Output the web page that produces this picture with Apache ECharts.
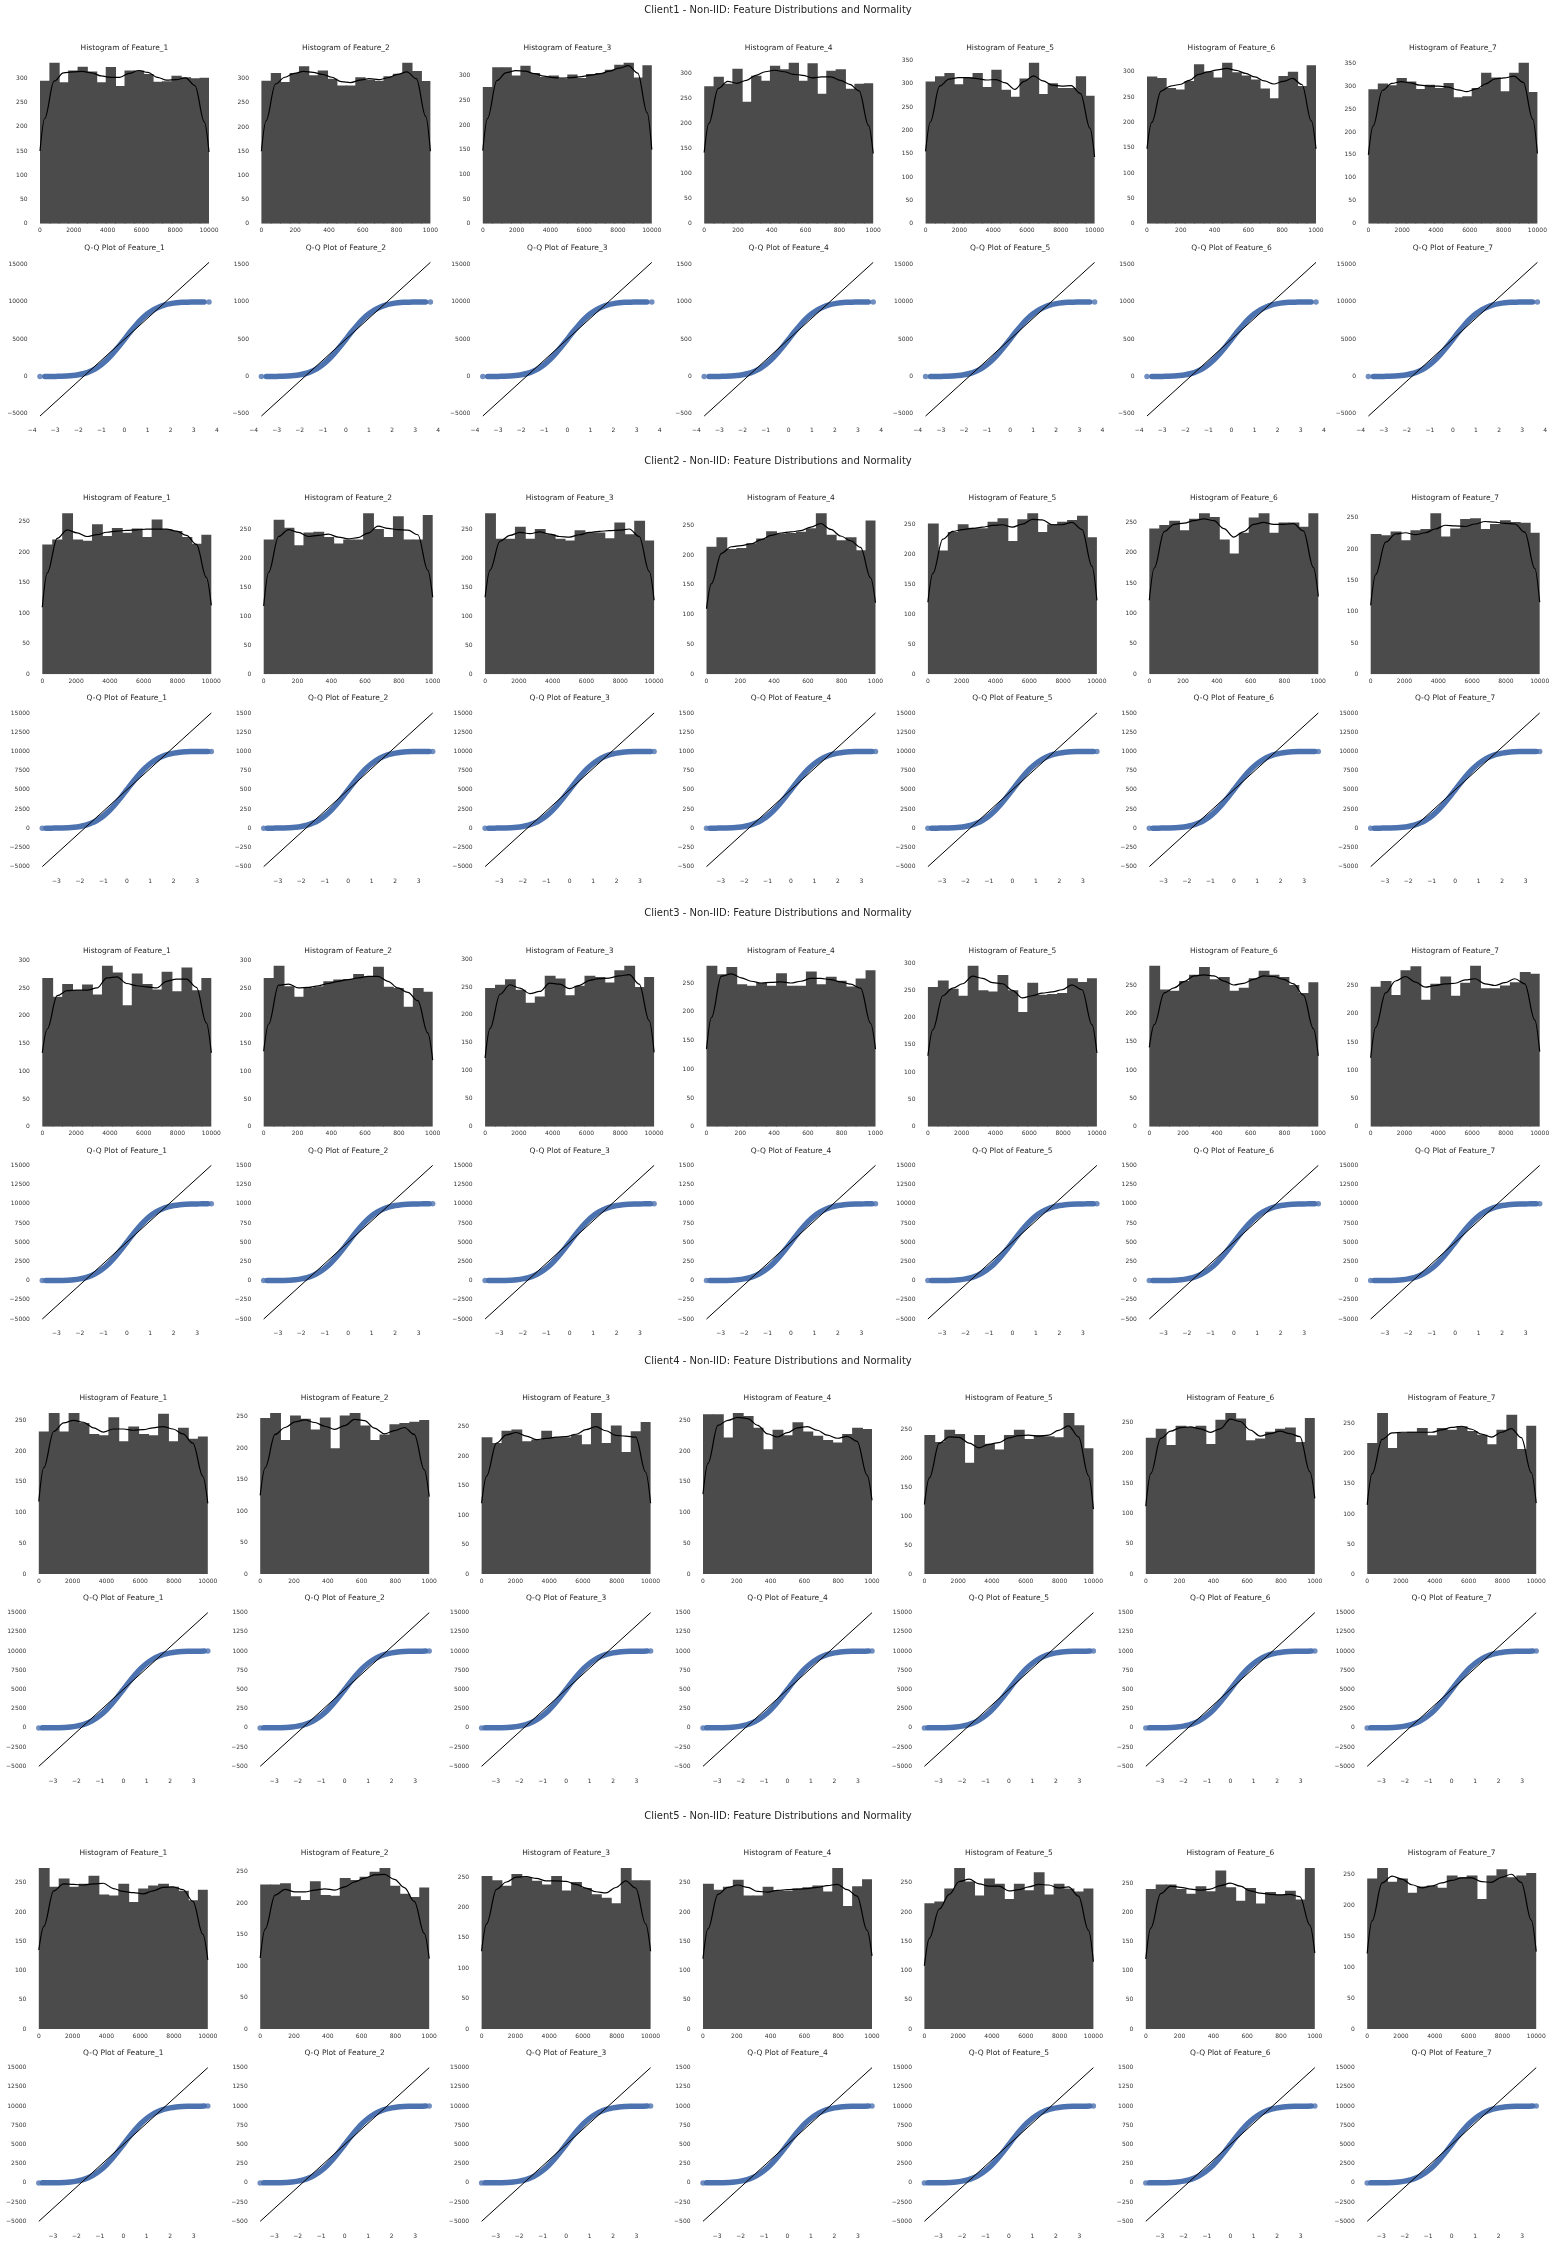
<!DOCTYPE html>
<html><head><meta charset="utf-8">
<script src="https://cdn.jsdelivr.net/npm/echarts@6/dist/echarts.min.js"></script>
<style>html,body{margin:0;padding:0;background:#fff}#c{width:1557px;height:2250px}</style>
</head><body><div id="c"></div>
<script>
// ---------------- DATA ----------------
const clientNames = ['Client1','Client2','Client3','Client4','Client5'];
const featureNames = ['Feature_1','Feature_2','Feature_3','Feature_4','Feature_5','Feature_6','Feature_7'];
const featureMax = [10000,1000,10000,1000,10000,1000,10000];
const histXTicks10k = [0,2000,4000,6000,8000,10000];
const histXTicks1k = [0,200,400,600,800,1000];

// histogram counts per bin (one row per feature)
const client1Counts = [
 [295,332,292,316,324,314,292,323,284,316,316,309,293,294,305,302,300,301],
 [296,312,293,312,326,307,317,300,286,286,303,298,296,305,310,333,316,295],
 [277,317,317,300,320,305,297,300,293,302,295,303,305,312,322,326,296,321],
 [274,293,279,309,243,295,285,315,308,321,285,320,259,305,308,269,279,280],
 [305,316,323,299,314,323,293,330,287,272,311,345,278,301,291,291,316,274],
 [291,288,268,265,282,315,300,289,318,299,293,285,267,248,292,300,272,313],
 [293,306,302,318,310,294,303,296,307,276,278,296,329,319,289,329,351,287]
];
// KDE curve values: left edge, each bin centre, right edge
const client1Kde = [
 [150,217,294,311,313,314,311,305,302,302,310,316,312,302,296,297,301,285,210,148],
 [150,213,289,303,311,315,313,309,303,294,292,297,300,298,302,309,314,300,222,150],
 [148,213,290,306,310,309,304,299,296,295,296,298,301,304,309,315,320,305,225,150],
 [142,200,270,284,280,286,296,303,306,303,298,296,291,293,293,286,278,265,196,140],
 [155,218,295,310,313,313,311,308,309,302,288,305,317,306,297,295,296,279,205,143],
 [148,200,262,272,275,283,295,300,304,307,303,297,290,282,276,281,287,275,203,148],
 [150,213,291,306,310,307,302,300,300,298,292,288,294,305,316,318,322,308,228,153]
];
const client2Counts = [
 [213,221,264,221,219,246,227,240,232,239,225,254,238,235,225,214,229],
 [233,267,253,223,245,246,237,226,233,233,278,251,237,273,233,233,275],
 [278,234,234,255,234,251,242,234,231,249,245,245,235,262,242,265,231],
 [214,230,210,212,220,228,240,236,237,239,245,270,234,225,230,208,258],
 [251,206,237,250,244,243,254,260,222,258,268,237,250,254,257,264,228],
 [240,246,253,237,256,265,259,222,199,233,258,265,233,250,250,243,265],
 [224,222,228,214,230,232,257,220,233,248,249,232,240,246,243,242,226]
];
const client2Kde = [
 [110,166,223,237,232,226,229,233,235,236,237,238,238,238,235,228,213,159,113],
 [118,176,238,250,245,238,240,242,237,234,236,244,256,252,250,249,241,180,133],
 [133,180,230,240,245,243,246,242,238,237,241,245,247,248,249,251,238,178,128],
 [110,152,203,214,216,219,226,233,237,239,241,247,253,243,232,224,213,162,120],
 [120,168,225,238,241,243,245,248,249,245,250,258,257,249,249,253,241,180,123],
 [122,175,235,247,249,253,256,253,240,226,235,247,250,247,247,248,236,176,128],
 [110,159,211,224,226,223,226,232,238,237,236,240,244,243,241,240,227,169,115]
];
const client3Counts = [
 [268,234,257,246,256,238,290,278,219,276,257,247,279,244,287,246,268],
 [268,290,253,234,250,253,262,265,266,275,270,288,252,250,216,250,243],
 [248,254,264,245,222,233,270,265,235,252,270,268,258,280,288,250,268],
 [280,265,278,248,245,250,245,267,245,245,270,248,261,254,244,258,272],
 [256,268,253,240,295,250,248,278,250,210,264,242,243,245,272,265,272],
 [284,242,240,257,268,282,260,264,240,245,262,275,268,264,250,236,255],
 [248,258,233,277,284,225,253,266,232,255,285,245,245,250,256,274,271]
];
const client3Kde = [
 [133,176,236,245,246,246,250,268,270,258,254,252,250,262,266,266,251,187,133],
 [136,185,255,257,250,251,254,258,262,265,268,271,271,262,250,242,227,169,120],
 [123,176,237,254,248,238,242,257,255,247,253,262,265,266,270,272,255,190,133],
 [135,190,262,266,259,253,250,251,252,250,253,258,258,256,252,248,241,180,135],
 [130,178,240,254,262,276,272,264,262,250,236,240,245,247,251,260,251,187,135],
 [140,180,236,245,256,266,268,266,257,250,253,260,266,265,260,252,232,173,125],
 [122,176,237,258,266,256,247,250,253,254,260,262,253,250,255,262,253,189,133]
];
const client4Counts = [
 [232,262,232,262,246,228,226,255,216,240,228,226,261,216,238,220,224],
 [248,256,213,252,247,230,249,200,252,256,236,213,222,238,240,242,245],
 [232,222,243,245,225,228,243,232,232,236,220,273,222,252,207,242,258],
 [260,260,222,262,257,238,203,235,226,247,232,225,218,214,228,238,236],
 [240,228,249,242,192,240,225,215,240,249,233,240,238,236,278,257,217],
 [225,240,213,245,243,245,215,255,266,257,221,224,235,240,242,218,258],
 [218,268,210,235,237,243,231,243,240,246,238,232,216,240,265,208,247]
];
const client4Kde = [
 [118,173,232,246,250,247,238,231,236,236,234,235,238,240,236,228,213,159,115],
 [125,169,222,233,242,245,241,235,230,236,246,244,232,223,228,233,222,166,123],
 [120,166,222,236,240,234,228,230,232,233,237,245,250,243,235,234,232,173,120],
 [130,180,242,250,255,253,242,228,223,230,238,240,234,226,221,224,216,161,120],
 [120,166,226,237,236,226,218,224,227,235,239,240,238,240,248,256,237,170,112],
 [112,166,224,236,242,243,240,234,240,256,252,238,228,232,236,232,227,169,125],
 [115,167,224,235,236,236,236,236,240,244,246,241,233,228,236,242,227,169,118]
];
const client5Counts = [
 [275,243,257,243,248,262,230,228,248,217,240,245,248,243,236,220,238],
 [230,230,232,211,205,235,213,212,240,237,242,250,256,228,215,210,225],
 [252,245,236,255,250,244,238,252,228,242,232,222,216,207,265,245,245],
 [248,238,243,255,228,228,243,237,236,240,242,245,235,275,210,244,256],
 [215,218,240,275,252,228,257,248,222,248,237,268,230,248,240,235,240],
 [240,248,248,240,232,245,236,272,243,220,242,215,235,230,237,222,276],
 [243,260,238,243,220,230,232,228,248,245,248,210,248,258,245,248,252]
];
const client5Kde = [
 [135,175,236,248,247,246,248,249,240,235,233,231,236,242,243,238,218,162,118],
 [113,159,213,222,218,218,221,223,221,226,234,240,245,246,238,225,203,152,112],
 [128,173,230,242,250,251,248,244,244,243,238,232,226,224,233,244,232,173,128],
 [120,171,230,242,246,242,235,234,237,238,239,240,242,245,247,238,227,169,125],
 [108,155,205,230,252,256,248,244,244,236,238,243,247,246,241,243,227,169,115],
 [120,173,232,245,243,240,238,240,246,250,245,237,233,231,230,231,227,178,130],
 [122,175,236,247,242,233,228,231,236,240,244,244,238,237,245,250,237,176,125]
];

// Q-Q plot: ordered sample values (dense band) against theoretical quantiles
const qqBandZ   = [-3.45,-3.2,-3.0,-2.75,-2.5,-2.25,-2.0,-1.75,-1.5,-1.25,-1.0,-0.75,-0.5,-0.25,0,0.25,0.5,0.75,1.0,1.25,1.5,1.75,2.0,2.25,2.5,2.75,3.0,3.2,3.45];
const qqBand10k = [5,10,15,30,60,120,230,400,670,1060,1590,2270,3090,4010,5000,5990,6910,7730,8410,8940,9330,9600,9770,9880,9940,9970,9985,9992,9996];
const qqBand1k  = [0.5,1,1.5,3,6,12,23,40,67,106,159,227,309,401,500,599,691,773,841,894,933,960,977,988,994,997,998.5,999.2,999.6];
const qqEndVals10k = [0,10000];
const qqEndVals1k  = [0,1000];
const qqEndZ = [3.66,3.6,3.6,3.6,3.6];
const qqFit10k = [[-5300,15300],[-5000,15000],[-5000,15000],[-5000,15000],[-5000,15000]];
const qqFit1k  = [[-530,1530],[-500,1500],[-500,1500],[-500,1500],[-500,1500]];
const qqXTicks = [[-4,-3,-2,-1,0,1,2,3,4],[-3,-2,-1,0,1,2,3],[-3,-2,-1,0,1,2,3],[-3,-2,-1,0,1,2,3],[-3,-2,-1,0,1,2,3]];
const qqYTicks10k = [[-5000,0,5000,10000,15000],[-5000,-2500,0,2500,5000,7500,10000,12500,15000],[-5000,-2500,0,2500,5000,7500,10000,12500,15000],[-5000,-2500,0,2500,5000,7500,10000,12500,15000],[-5000,-2500,0,2500,5000,7500,10000,12500,15000]];
const qqYTicks1k  = [[-500,0,500,1000,1500],[-500,-250,0,250,500,750,1000,1250,1500],[-500,-250,0,250,500,750,1000,1250,1500],[-500,-250,0,250,500,750,1000,1250,1500],[-500,-250,0,250,500,750,1000,1250,1500]];

// ---------------- LAYOUT / STYLE ----------------
const countsAll = [client1Counts,client2Counts,client3Counts,client4Counts,client5Counts];
const kdeAll = [client1Kde,client2Kde,client3Kde,client4Kde,client5Kde];
const dataLeft = [40,42.3,42.3,38.8,38.8];
const zeroY = [223.7,674.3,1126.7,1574,2029];
const PITCH = 221.4, AXW = 185.9, AXH = 169, QQ_GAP = 200;
const FONT = 'DejaVu Sans';
const BAR = '#4b4b4b', BLUE = '#4c72b0', TXT = '#262626';

const chart = echarts.init(document.getElementById('c'), null, {width:1557, height:2250});
const grid = [], xAxis = [], yAxis = [], series = [], graphic = [];
const hidden = {axisLine:{show:false}, axisTick:{show:false}, splitLine:{show:false}};
function lbl(vals){
  return {customValues: vals, fontSize: 6, color: '#333', margin: 4, fontFamily: FONT,
          formatter: v => String(v).replace('-', '\u2212')};
}
function text(str, x, y, size){
  graphic.push({type:'text', x: x, y: y, silent: true,
    style:{text: str, fill: TXT, fontSize: size, fontFamily: FONT, align: 'center', verticalAlign: 'middle'}});
}

let gi = 0;
for (let c = 0; c < 5; c++) {
  const histTop = zeroY[c] - AXH;
  const qqTop = histTop + QQ_GAP;
  text(clientNames[c] + ' - Non-IID: Feature Distributions and Normality', 778, zeroY[c] - 213, 10);
  for (let f = 0; f < 7; f++) {
    const left = dataLeft[c] - 8.45 + PITCH * f;
    const fmax = featureMax[f];
    const counts = countsAll[c][f];
    const kde = kdeAll[c][f];
    const n = counts.length;
    const w = fmax / n;
    const ymax = Math.max(...counts) * 1.05;
    const yt = [];
    for (let t = 0; t <= ymax; t += 50) yt.push(t);

    // ---- histogram ----
    grid.push({left: left, top: histTop, width: AXW, height: AXH});
    xAxis.push(Object.assign({gridIndex: gi, type: 'value', min: -fmax * 0.05, max: fmax * 1.05,
      axisLabel: lbl(fmax === 10000 ? histXTicks10k : histXTicks1k)}, hidden));
    yAxis.push(Object.assign({gridIndex: gi, type: 'value', min: 0, max: ymax, axisLabel: lbl(yt)}, hidden));
    series.push({type: 'custom', xAxisIndex: gi, yAxisIndex: gi, silent: true, clip: true,
      data: counts.map((v, i) => [i * w, (i + 1) * w, v, i === n - 1 ? 1 : 0]),
      encode: {x: [0, 1], y: 2},
      renderItem: (params, api) => {
        const p0 = api.coord([api.value(0), api.value(2)]);
        const p1 = api.coord([api.value(1), 0]);
        const extra = api.value(3) ? 0 : 0.9;   // overlap neighbours to hide anti-alias seams
        return {type: 'rect', shape: {x: p0[0], y: p0[1], width: p1[0] - p0[0] + extra, height: p1[1] - p0[1]},
                style: {fill: BAR}};
      }, z: 2});
    series.push({type: 'line', xAxisIndex: gi, yAxisIndex: gi, silent: true, symbol: 'none',
      smooth: 0.35, smoothMonotone: 'x',
      data: kde.map((v, i) => [i === 0 ? 0 : (i === n + 1 ? fmax : (i - 0.5) * w), v]),
      lineStyle: {color: '#000', width: 1.2}, z: 3});
    text('Histogram of ' + featureNames[f], left + AXW / 2, histTop - 7, 7.5);
    gi++;

    // ---- Q-Q plot ----
    const ext = qqEndZ[c];
    const fit = (fmax === 10000 ? qqFit10k : qqFit1k)[c];
    const span = fit[1] - fit[0];
    const band = fmax === 10000 ? qqBand10k : qqBand1k;
    const ends = fmax === 10000 ? qqEndVals10k : qqEndVals1k;
    grid.push({left: left, top: qqTop, width: AXW, height: AXH});
    xAxis.push(Object.assign({gridIndex: gi, type: 'value', min: -ext * 1.1, max: ext * 1.1,
      axisLabel: lbl(qqXTicks[c])}, hidden));
    yAxis.push(Object.assign({gridIndex: gi, type: 'value', min: fit[0] - 0.05 * span, max: fit[1] + 0.05 * span,
      axisLabel: lbl((fmax === 10000 ? qqYTicks10k : qqYTicks1k)[c])}, hidden));
    series.push({type: 'line', xAxisIndex: gi, yAxisIndex: gi, silent: true, symbol: 'none', smooth: 0.3,
      data: qqBandZ.map((z, i) => [z, band[i]]),
      lineStyle: {color: BLUE, width: 5.5, cap: 'round', join: 'round'}, z: 2});
    series.push({type: 'scatter', xAxisIndex: gi, yAxisIndex: gi, silent: true, symbolSize: 5.5,
      data: [[-ext, ends[0]], [ext, ends[1]]], itemStyle: {color: BLUE}, z: 2});
    series.push({type: 'line', xAxisIndex: gi, yAxisIndex: gi, silent: true, symbol: 'none',
      data: [[-ext, fit[0]], [ext, fit[1]]], lineStyle: {color: '#000', width: 1}, z: 3});
    text('Q-Q Plot of ' + featureNames[f], left + AXW / 2, qqTop - 7, 7.5);
    gi++;
  }
}

chart.setOption({backgroundColor: '#fff', animation: false, grid, xAxis, yAxis, series, graphic});
</script></body></html>
